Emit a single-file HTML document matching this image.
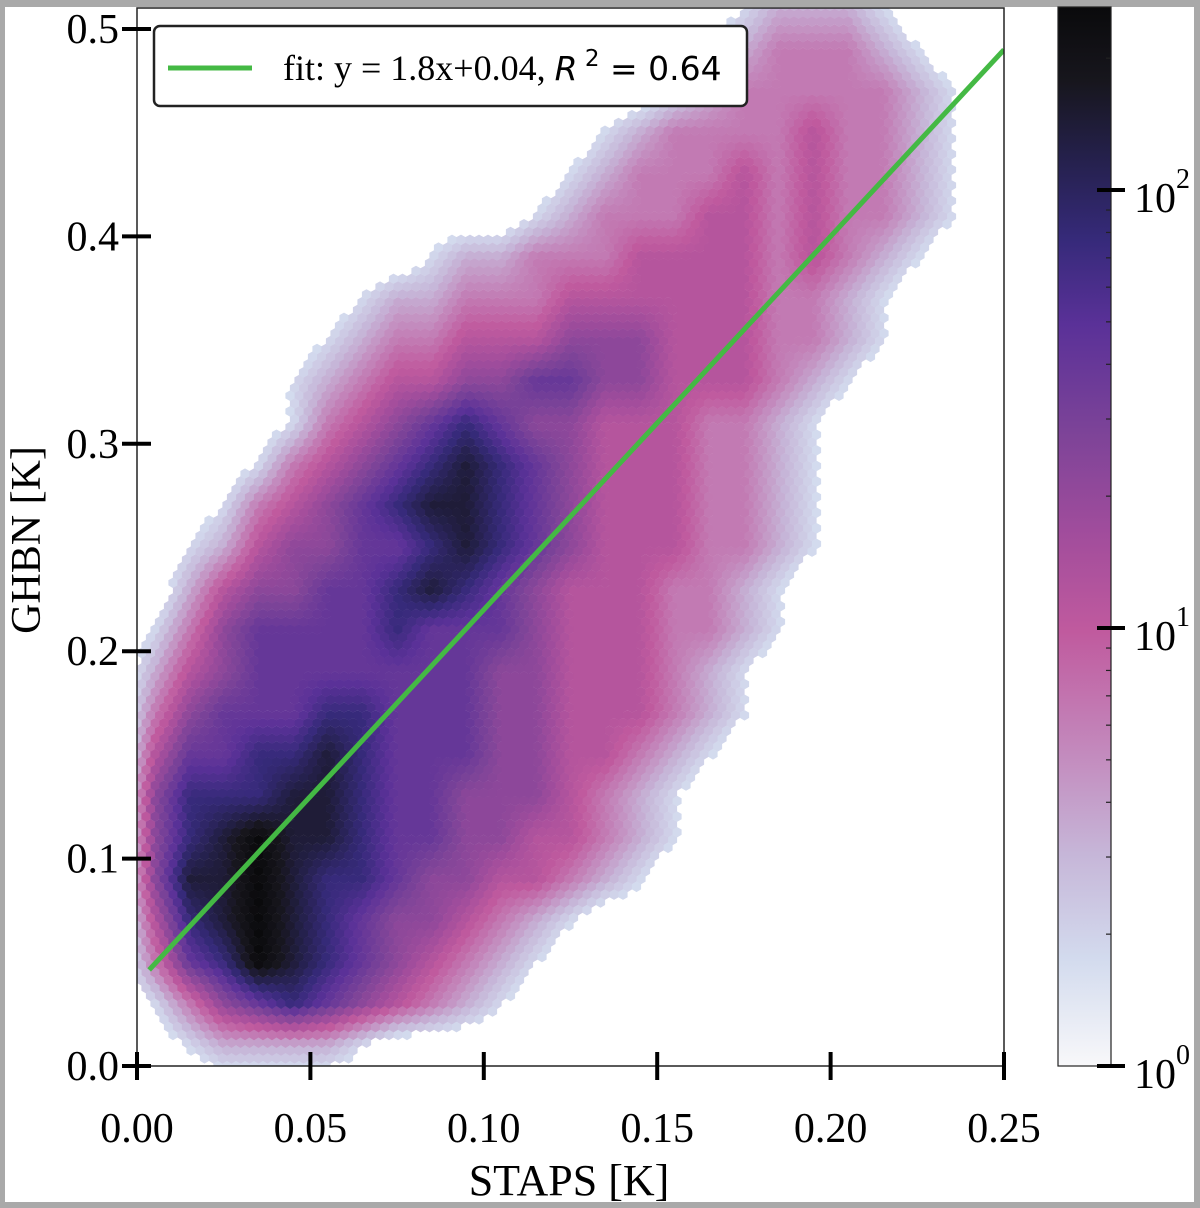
<!DOCTYPE html>
<html><head><meta charset="utf-8"><style>
html,body{margin:0;padding:0;background:#a9a9a9;}
#wrap{position:relative;width:1200px;height:1208px;background:#a9a9a9;}
svg{position:absolute;left:0;top:0;}
text{font-family:"Liberation Serif",serif;fill:#000;}
</style></head><body>
<div id="wrap">
<svg id="chart" width="1200" height="1208">
  <rect x="5" y="7" width="1189" height="1195" fill="#fff"/>
  <defs>
    <clipPath id="plotclip"><rect x="137" y="8" width="867" height="1058"/></clipPath>
    <linearGradient id="cbgrad" x1="0" y1="1" x2="0" y2="0">
      <stop offset="0" stop-color="#f8f8fa"/>
      <stop offset="0.1" stop-color="#d3dbee"/>
      <stop offset="0.2" stop-color="#c6b6d8"/>
      <stop offset="0.3" stop-color="#c388bc"/>
      <stop offset="0.41" stop-color="#c05a9e"/>
      <stop offset="0.5" stop-color="#a24d9c"/>
      <stop offset="0.6" stop-color="#7c4398"/>
      <stop offset="0.7" stop-color="#5a3198"/>
      <stop offset="0.78" stop-color="#362a7a"/>
      <stop offset="0.86" stop-color="#24204a"/>
      <stop offset="0.93" stop-color="#17161d"/>
      <stop offset="1" stop-color="#0a0a0c"/>
    </linearGradient>
  </defs>
  <g id="hexes" clip-path="url(#plotclip)"></g>
  <g id="fit" clip-path="url(#plotclip)"></g>
  <rect x="137" y="8" width="867" height="1058" fill="none" stroke="#222" stroke-width="1.5"/>
  <g id="axes"></g>
  <g>
    <rect x="154" y="26" width="593" height="80" rx="6" fill="#fff" stroke="#222" stroke-width="2.5"/>
    <line x1="168" y1="68" x2="252" y2="68" stroke="#44b944" stroke-width="5"/>
    <text x="283" y="80" font-size="36">fit: y = 1.8x+0.04, <tspan font-family="DejaVu Sans,sans-serif" font-style="italic" font-size="33">R</tspan><tspan font-family="DejaVu Sans,sans-serif" font-size="23" dy="-14"> 2</tspan><tspan font-family="DejaVu Sans,sans-serif" font-size="33" dy="14"> = 0.64</tspan></text>
  </g>
  <g>
    <rect x="1058" y="7" width="53" height="1059" fill="url(#cbgrad)" stroke="#222" stroke-width="1.2"/>
    <g id="cbticks"></g>
  </g>
  <text x="40" y="540" font-size="42" text-anchor="middle" transform="rotate(-90 40 540)">GHBN [K]</text>
  <text x="569" y="1195" font-size="44" text-anchor="middle">STAPS [K]</text>
</svg>
</div>
<script>
// density grid: log-count level 0..9, columns x=0.005+0.01*j, rows y (listed top->bottom)
const gridY = [0.51,0.49,0.47,0.45,0.43,0.41,0.39,0.37,0.35,0.33,0.31,0.29,0.27,0.25,0.23,0.21,0.19,0.17,0.15,0.13,0.11,0.09,0.07,0.05,0.03,0.01];
const gridX = [0.005,0.015,0.025,0.035,0.045,0.055,0.065,0.075,0.085,0.095,0.105,0.115,0.125,0.135,0.145,0.155,0.165,0.175,0.185,0.195,0.205,0.215,0.225,0.235,0.245];
const densityRows = [
"0000000000000000012221000",
"0000000000000000123332100",
"0000000000000001233333210",
"0000000000000123333433210",
"0000000000001233343433210",
"0000000000012333443433210",
"0000000012233344443432100",
"0000001223334444443321000",
"0000012334445554443321000",
"0000123445566554443210000",
"0000134567655444332100000",
"0001345678765444332100000",
"0013456788765444332100000",
"0124556678765444332100000",
"0245566787654443321000000",
"1356666766654443321000000",
"2456666666554443210000000",
"3566677666554443210000000",
"4667787666554432100000000",
"5777887665554321000000000",
"5789887665544321000000000",
"5889877655443210000000000",
"4789876554321000000000000",
"3679876543210000000000000",
"1356765432100000000000000",
"0122221000000000000000000"
];
const xTicks = [0.00,0.05,0.10,0.15,0.20,0.25];
const xTickLabels = ["0.00","0.05","0.10","0.15","0.20","0.25"];
const yTicks = [0.0,0.1,0.2,0.3,0.4,0.5];
const yTickLabels = ["0.0","0.1","0.2","0.3","0.4","0.5"];
const cbTicks = [0,1,2];
const cbTickLabels = ["0","1","2"];
const fitSlope = [1.8];
const fitIntercept = [0.04];
const fitRange = [0.0035,0.25];

const X0=137, XS=3468, Y0=1066, YS=2074;
function sx(v){return X0+v*XS;}
function sy(v){return Y0-v*YS;}
const CB0=1066, CBD=438;
function cby(e){return CB0-e*CBD;}
const NS='http://www.w3.org/2000/svg';
function mk(tag,attrs){const e=document.createElementNS(NS,tag);for(const k in attrs)e.setAttribute(k,attrs[k]);return e;}

const stops=[[0,[248,248,250]],[0.1,[211,219,238]],[0.2,[198,182,216]],[0.3,[195,136,188]],[0.41,[192,90,158]],[0.5,[162,77,156]],[0.6,[124,67,152]],[0.7,[90,49,152]],[0.78,[54,42,122]],[0.86,[36,32,74]],[0.93,[23,22,29]],[1,[10,10,12]]];
function cmap(t){t=Math.max(0,Math.min(1,t));for(let i=1;i<stops.length;i++){if(t<=stops[i][0]){const a=stops[i-1],b=stops[i];const f=(t-a[0])/(b[0]-a[0]);const c=a[1].map((v,k)=>Math.round(v+(b[1][k]-v)*f));return 'rgb('+c.join(',')+')';}}return 'rgb(10,10,12)';}

function level(x,y){
  const fx=(x-gridX[0])/0.01, fy=(gridY[0]-y)/0.02;
  const j0=Math.floor(fx), i0=Math.floor(fy);
  const g=(i,j)=>{if(i<0||i>=densityRows.length||j<0||j>=gridX.length)return 0;return +densityRows[i][j];};
  const tx=fx-j0, ty=fy-i0;
  return g(i0,j0)*(1-tx)*(1-ty)+g(i0,j0+1)*tx*(1-ty)+g(i0+1,j0)*(1-tx)*ty+g(i0+1,j0+1)*tx*ty;
}

const hexG=document.getElementById('hexes');
const hw=9, hr=hw/Math.sqrt(3), vstep=hr*1.5;
const groups={};
for(let r=0; ; r++){
  const py=Y0-r*vstep; if(py<0)break;
  const off=(r%2)?hw/2:0;
  for(let px=X0+off; px<1010; px+=hw){
    const x=(px-X0)/XS, y=(Y0-py)/YS;
    const L=level(x,y);
    if(L<0.9)continue;
    const col=cmap(L/9);
    let p='M'+px.toFixed(1)+' '+(py-hr).toFixed(1);
    for(let k=1;k<6;k++){const a=Math.PI/2+k*Math.PI/3;p+='L'+(px+hr*Math.cos(a)*1.03).toFixed(1)+' '+(py-hr*Math.sin(a)*1.03).toFixed(1);}
    p+='Z';
    (groups[col]=groups[col]||[]).push(p);
  }
}
for(const c in groups){
  const path=mk('path',{d:groups[c].join(''),fill:c});
  
  
  hexG.appendChild(path);
}

const fitG=document.getElementById('fit');
const fl=mk('line',{x1:sx(fitRange[0]),y1:sy(fitSlope[0]*fitRange[0]+fitIntercept[0]),x2:sx(fitRange[1]),y2:sy(fitSlope[0]*fitRange[1]+fitIntercept[0]),stroke:'#44b944','stroke-width':5});


fitG.appendChild(fl);

const ax=document.getElementById('axes');
xTicks.forEach((v,i)=>{
  const t=mk('line',{x1:sx(v),x2:sx(v),y1:1052,y2:1080,stroke:'#000','stroke-width':4});
  
  
  ax.appendChild(t);
  const l=mk('text',{x:sx(v),y:1142,'font-size':42,'text-anchor':'middle'});l.textContent=xTickLabels[i];
  
  
  ax.appendChild(l);
});
yTicks.forEach((v,i)=>{
  const t=mk('line',{x1:122,x2:151,y1:sy(v),y2:sy(v),stroke:'#000','stroke-width':4});
  
  
  ax.appendChild(t);
  const l=mk('text',{x:119,y:sy(v)+14,'font-size':42,'text-anchor':'end'});l.textContent=yTickLabels[i];
  
  
  ax.appendChild(l);
});
const cb=document.getElementById('cbticks');
cbTicks.forEach((e,i)=>{
  const t=mk('line',{x1:1097,x2:1125,y1:cby(e),y2:cby(e),stroke:'#000','stroke-width':4});
  
  
  cb.appendChild(t);
  const l=mk('text',{x:1134,y:cby(e)+22,'font-size':42});
  l.textContent='10';
  const s=mk('tspan',{dy:-24,'font-size':28});s.textContent=cbTickLabels[i];l.appendChild(s);
  
  
  cb.appendChild(l);
});
for(let dec=0;dec<3;dec++){for(let m=2;m<10;m++){const e=dec+Math.log10(m);const y=cby(e);if(y<8)continue;
  const t=mk('line',{x1:1106,x2:1111,y1:y,y2:y,stroke:'#222','stroke-width':1.2});
  
  
  cb.appendChild(t);}}
</script>
</body></html>
